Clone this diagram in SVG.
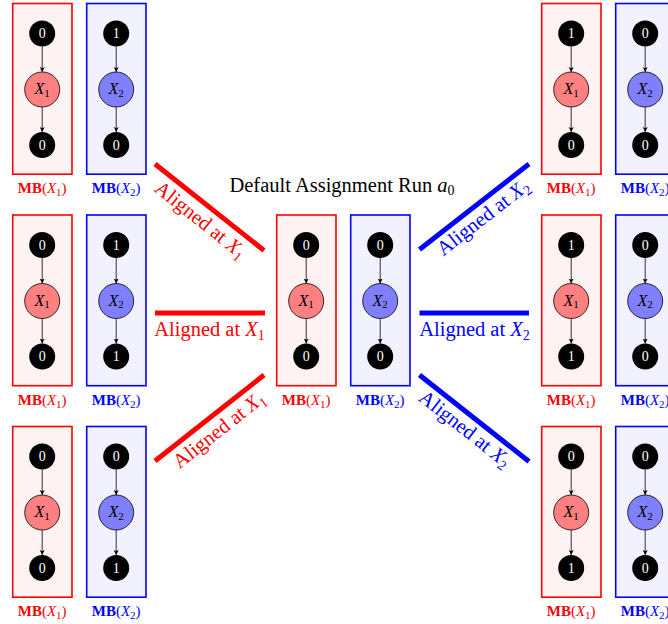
<svg xmlns="http://www.w3.org/2000/svg" width="668" height="624" viewBox="0 0 668 624">
<defs>
<marker id="ah" markerUnits="userSpaceOnUse" markerWidth="6" markerHeight="6" refX="5" refY="2.5" orient="auto">
<path d="M0,0 L5,2.5 L0,5 L1.2,2.5 z" fill="#000"/>
</marker>
</defs>
<style>
.rbox{fill:#fff2f2;stroke:#ff0000;stroke-width:1.6}
.bbox{fill:#f2f2ff;stroke:#0000ff;stroke-width:1.6}
.val{fill:#000}
.vt{fill:#fff;font-family:"Liberation Serif",serif;font-size:14px;text-anchor:middle}
.xr{fill:#ff8080;stroke:#000;stroke-width:0.8}
.xb{fill:#8080ff;stroke:#000;stroke-width:0.8}
.xt{fill:#000;font-family:"Liberation Serif",serif;font-size:16px;text-anchor:middle}
.ar{stroke:#000;stroke-width:0.8;fill:none;marker-end:url(#ah)}
.mb{font-family:"Liberation Serif",serif;font-size:15px;text-anchor:middle}
.mbr{fill:#ff0000}
.mbb{fill:#0000ff}
.lr{stroke:#ff0000;stroke-width:5;fill:none}
.lb{stroke:#0000ff;stroke-width:5;fill:none}
.al{font-family:"Liberation Serif",serif;font-size:20.5px;text-anchor:middle}
.title{font-family:"Liberation Serif",serif;font-size:20.5px;text-anchor:middle;fill:#000}
</style>

<text class="title" x="342" y="192">Default Assignment Run <tspan font-style="italic">a</tspan><tspan font-size="14" dy="3">0</tspan></text>

<g id="connectors">
<line class="lr" x1="155" y1="164" x2="264" y2="250.5"/>
<line class="lr" x1="155" y1="313" x2="265" y2="313"/>
<line class="lr" x1="155" y1="461" x2="264" y2="375"/>
<line class="lb" x1="419.5" y1="249.5" x2="529" y2="164"/>
<line class="lb" x1="419.5" y1="313" x2="529" y2="313"/>
<line class="lb" x1="419.5" y1="375" x2="529" y2="461.5"/>
<text class="al mbr" transform="translate(196.5,225) rotate(38.5)">Aligned at <tspan font-style="italic">X</tspan><tspan font-size="14" dy="4">1</tspan></text>
<text class="al mbr" x="209.5" y="336">Aligned at <tspan font-style="italic">X</tspan><tspan font-size="14" dy="4">1</tspan></text>
<text class="al mbr" transform="translate(223,435) rotate(-38.2)">Aligned at <tspan font-style="italic">X</tspan><tspan font-size="14" dy="4">1</tspan></text>
<text class="al mbb" transform="translate(487,222.5) rotate(-37.8)">Aligned at <tspan font-style="italic">X</tspan><tspan font-size="14" dy="4">2</tspan></text>
<text class="al mbb" x="474.5" y="336">Aligned at <tspan font-style="italic">X</tspan><tspan font-size="14" dy="4">2</tspan></text>
<text class="al mbb" transform="translate(461,434) rotate(38.2)">Aligned at <tspan font-style="italic">X</tspan><tspan font-size="14" dy="4">2</tspan></text>
</g>

<!-- Left column, row 1 -->
<g id="L1-MB1">
<rect class="rbox" x="12.7" y="3.5" width="59.3" height="170.7"/>
<circle class="val" cx="42.2" cy="33.5" r="13"/><text class="vt" x="42.2" y="38.3">0</text>
<line class="ar" x1="42.2" y1="46.5" x2="42.2" y2="72"/>
<circle class="xr" cx="42.2" cy="89.5" r="17.5"/><text class="xt" x="42.2" y="94"><tspan font-style="italic">X</tspan><tspan font-size="11" dy="2.5">1</tspan></text>
<line class="ar" x1="42.2" y1="107" x2="42.2" y2="132"/>
<circle class="val" cx="42.2" cy="145" r="13"/><text class="vt" x="42.2" y="149.8">0</text>
<text class="mb mbr" x="42.2" y="193"><tspan font-weight="bold">MB</tspan>(<tspan font-style="italic">X</tspan><tspan font-size="11" dy="3">1</tspan><tspan dy="-3">)</tspan></text>
</g>
<g id="L1-MB2">
<rect class="bbox" x="86.7" y="3.5" width="59.3" height="170.7"/>
<circle class="val" cx="116.2" cy="33.5" r="13"/><text class="vt" x="116.2" y="38.3">1</text>
<line class="ar" x1="116.2" y1="46.5" x2="116.2" y2="72"/>
<circle class="xb" cx="116.2" cy="89.5" r="17.5"/><text class="xt" x="116.2" y="94"><tspan font-style="italic">X</tspan><tspan font-size="11" dy="2.5">2</tspan></text>
<line class="ar" x1="116.2" y1="107" x2="116.2" y2="132"/>
<circle class="val" cx="116.2" cy="145" r="13"/><text class="vt" x="116.2" y="149.8">0</text>
<text class="mb mbb" x="116.2" y="193"><tspan font-weight="bold">MB</tspan>(<tspan font-style="italic">X</tspan><tspan font-size="11" dy="3">2</tspan><tspan dy="-3">)</tspan></text>
</g>

<!-- Left column, row 2 -->
<g id="L2-MB1">
<rect class="rbox" x="12.7" y="215" width="59.3" height="170.7"/>
<circle class="val" cx="42.2" cy="245" r="13"/><text class="vt" x="42.2" y="249.8">0</text>
<line class="ar" x1="42.2" y1="258" x2="42.2" y2="283.5"/>
<circle class="xr" cx="42.2" cy="301" r="17.5"/><text class="xt" x="42.2" y="305.5"><tspan font-style="italic">X</tspan><tspan font-size="11" dy="2.5">1</tspan></text>
<line class="ar" x1="42.2" y1="318.5" x2="42.2" y2="343.5"/>
<circle class="val" cx="42.2" cy="356.5" r="13"/><text class="vt" x="42.2" y="361.3">0</text>
<text class="mb mbr" x="42.2" y="404.5"><tspan font-weight="bold">MB</tspan>(<tspan font-style="italic">X</tspan><tspan font-size="11" dy="3">1</tspan><tspan dy="-3">)</tspan></text>
</g>
<g id="L2-MB2">
<rect class="bbox" x="86.7" y="215" width="59.3" height="170.7"/>
<circle class="val" cx="116.2" cy="245" r="13"/><text class="vt" x="116.2" y="249.8">1</text>
<line class="ar" x1="116.2" y1="258" x2="116.2" y2="283.5"/>
<circle class="xb" cx="116.2" cy="301" r="17.5"/><text class="xt" x="116.2" y="305.5"><tspan font-style="italic">X</tspan><tspan font-size="11" dy="2.5">2</tspan></text>
<line class="ar" x1="116.2" y1="318.5" x2="116.2" y2="343.5"/>
<circle class="val" cx="116.2" cy="356.5" r="13"/><text class="vt" x="116.2" y="361.3">1</text>
<text class="mb mbb" x="116.2" y="404.5"><tspan font-weight="bold">MB</tspan>(<tspan font-style="italic">X</tspan><tspan font-size="11" dy="3">2</tspan><tspan dy="-3">)</tspan></text>
</g>

<!-- Left column, row 3 -->
<g id="L3-MB1">
<rect class="rbox" x="12.7" y="426.5" width="59.3" height="170.7"/>
<circle class="val" cx="42.2" cy="456.5" r="13"/><text class="vt" x="42.2" y="461.3">0</text>
<line class="ar" x1="42.2" y1="469.5" x2="42.2" y2="495"/>
<circle class="xr" cx="42.2" cy="512.5" r="17.5"/><text class="xt" x="42.2" y="517"><tspan font-style="italic">X</tspan><tspan font-size="11" dy="2.5">1</tspan></text>
<line class="ar" x1="42.2" y1="530" x2="42.2" y2="555"/>
<circle class="val" cx="42.2" cy="568" r="13"/><text class="vt" x="42.2" y="572.8">0</text>
<text class="mb mbr" x="42.2" y="616"><tspan font-weight="bold">MB</tspan>(<tspan font-style="italic">X</tspan><tspan font-size="11" dy="3">1</tspan><tspan dy="-3">)</tspan></text>
</g>
<g id="L3-MB2">
<rect class="bbox" x="86.7" y="426.5" width="59.3" height="170.7"/>
<circle class="val" cx="116.2" cy="456.5" r="13"/><text class="vt" x="116.2" y="461.3">0</text>
<line class="ar" x1="116.2" y1="469.5" x2="116.2" y2="495"/>
<circle class="xb" cx="116.2" cy="512.5" r="17.5"/><text class="xt" x="116.2" y="517"><tspan font-style="italic">X</tspan><tspan font-size="11" dy="2.5">2</tspan></text>
<line class="ar" x1="116.2" y1="530" x2="116.2" y2="555"/>
<circle class="val" cx="116.2" cy="568" r="13"/><text class="vt" x="116.2" y="572.8">1</text>
<text class="mb mbb" x="116.2" y="616"><tspan font-weight="bold">MB</tspan>(<tspan font-style="italic">X</tspan><tspan font-size="11" dy="3">2</tspan><tspan dy="-3">)</tspan></text>
</g>

<!-- Center -->
<g id="C-MB1">
<rect class="rbox" x="276.7" y="215" width="59.3" height="170.7"/>
<circle class="val" cx="306.2" cy="245" r="13"/><text class="vt" x="306.2" y="249.8">0</text>
<line class="ar" x1="306.2" y1="258" x2="306.2" y2="283.5"/>
<circle class="xr" cx="306.2" cy="301" r="17.5"/><text class="xt" x="306.2" y="305.5"><tspan font-style="italic">X</tspan><tspan font-size="11" dy="2.5">1</tspan></text>
<line class="ar" x1="306.2" y1="318.5" x2="306.2" y2="343.5"/>
<circle class="val" cx="306.2" cy="356.5" r="13"/><text class="vt" x="306.2" y="361.3">0</text>
<text class="mb mbr" x="306.2" y="404.5"><tspan font-weight="bold">MB</tspan>(<tspan font-style="italic">X</tspan><tspan font-size="11" dy="3">1</tspan><tspan dy="-3">)</tspan></text>
</g>
<g id="C-MB2">
<rect class="bbox" x="350.7" y="215" width="59.3" height="170.7"/>
<circle class="val" cx="380.2" cy="245" r="13"/><text class="vt" x="380.2" y="249.8">0</text>
<line class="ar" x1="380.2" y1="258" x2="380.2" y2="283.5"/>
<circle class="xb" cx="380.2" cy="301" r="17.5"/><text class="xt" x="380.2" y="305.5"><tspan font-style="italic">X</tspan><tspan font-size="11" dy="2.5">2</tspan></text>
<line class="ar" x1="380.2" y1="318.5" x2="380.2" y2="343.5"/>
<circle class="val" cx="380.2" cy="356.5" r="13"/><text class="vt" x="380.2" y="361.3">0</text>
<text class="mb mbb" x="380.2" y="404.5"><tspan font-weight="bold">MB</tspan>(<tspan font-style="italic">X</tspan><tspan font-size="11" dy="3">2</tspan><tspan dy="-3">)</tspan></text>
</g>

<!-- Right column, row 1 -->
<g id="R1-MB1">
<rect class="rbox" x="541.7" y="3.5" width="59.3" height="170.7"/>
<circle class="val" cx="571.2" cy="33.5" r="13"/><text class="vt" x="571.2" y="38.3">1</text>
<line class="ar" x1="571.2" y1="46.5" x2="571.2" y2="72"/>
<circle class="xr" cx="571.2" cy="89.5" r="17.5"/><text class="xt" x="571.2" y="94"><tspan font-style="italic">X</tspan><tspan font-size="11" dy="2.5">1</tspan></text>
<line class="ar" x1="571.2" y1="107" x2="571.2" y2="132"/>
<circle class="val" cx="571.2" cy="145" r="13"/><text class="vt" x="571.2" y="149.8">0</text>
<text class="mb mbr" x="571.2" y="193"><tspan font-weight="bold">MB</tspan>(<tspan font-style="italic">X</tspan><tspan font-size="11" dy="3">1</tspan><tspan dy="-3">)</tspan></text>
</g>
<g id="R1-MB2">
<rect class="bbox" x="615.7" y="3.5" width="59.3" height="170.7"/>
<circle class="val" cx="645.2" cy="33.5" r="13"/><text class="vt" x="645.2" y="38.3">0</text>
<line class="ar" x1="645.2" y1="46.5" x2="645.2" y2="72"/>
<circle class="xb" cx="645.2" cy="89.5" r="17.5"/><text class="xt" x="645.2" y="94"><tspan font-style="italic">X</tspan><tspan font-size="11" dy="2.5">2</tspan></text>
<line class="ar" x1="645.2" y1="107" x2="645.2" y2="132"/>
<circle class="val" cx="645.2" cy="145" r="13"/><text class="vt" x="645.2" y="149.8">0</text>
<text class="mb mbb" x="645.2" y="193"><tspan font-weight="bold">MB</tspan>(<tspan font-style="italic">X</tspan><tspan font-size="11" dy="3">2</tspan><tspan dy="-3">)</tspan></text>
</g>

<!-- Right column, row 2 -->
<g id="R2-MB1">
<rect class="rbox" x="541.7" y="215" width="59.3" height="170.7"/>
<circle class="val" cx="571.2" cy="245" r="13"/><text class="vt" x="571.2" y="249.8">1</text>
<line class="ar" x1="571.2" y1="258" x2="571.2" y2="283.5"/>
<circle class="xr" cx="571.2" cy="301" r="17.5"/><text class="xt" x="571.2" y="305.5"><tspan font-style="italic">X</tspan><tspan font-size="11" dy="2.5">1</tspan></text>
<line class="ar" x1="571.2" y1="318.5" x2="571.2" y2="343.5"/>
<circle class="val" cx="571.2" cy="356.5" r="13"/><text class="vt" x="571.2" y="361.3">1</text>
<text class="mb mbr" x="571.2" y="404.5"><tspan font-weight="bold">MB</tspan>(<tspan font-style="italic">X</tspan><tspan font-size="11" dy="3">1</tspan><tspan dy="-3">)</tspan></text>
</g>
<g id="R2-MB2">
<rect class="bbox" x="615.7" y="215" width="59.3" height="170.7"/>
<circle class="val" cx="645.2" cy="245" r="13"/><text class="vt" x="645.2" y="249.8">0</text>
<line class="ar" x1="645.2" y1="258" x2="645.2" y2="283.5"/>
<circle class="xb" cx="645.2" cy="301" r="17.5"/><text class="xt" x="645.2" y="305.5"><tspan font-style="italic">X</tspan><tspan font-size="11" dy="2.5">2</tspan></text>
<line class="ar" x1="645.2" y1="318.5" x2="645.2" y2="343.5"/>
<circle class="val" cx="645.2" cy="356.5" r="13"/><text class="vt" x="645.2" y="361.3">0</text>
<text class="mb mbb" x="645.2" y="404.5"><tspan font-weight="bold">MB</tspan>(<tspan font-style="italic">X</tspan><tspan font-size="11" dy="3">2</tspan><tspan dy="-3">)</tspan></text>
</g>

<!-- Right column, row 3 -->
<g id="R3-MB1">
<rect class="rbox" x="541.7" y="426.5" width="59.3" height="170.7"/>
<circle class="val" cx="571.2" cy="456.5" r="13"/><text class="vt" x="571.2" y="461.3">0</text>
<line class="ar" x1="571.2" y1="469.5" x2="571.2" y2="495"/>
<circle class="xr" cx="571.2" cy="512.5" r="17.5"/><text class="xt" x="571.2" y="517"><tspan font-style="italic">X</tspan><tspan font-size="11" dy="2.5">1</tspan></text>
<line class="ar" x1="571.2" y1="530" x2="571.2" y2="555"/>
<circle class="val" cx="571.2" cy="568" r="13"/><text class="vt" x="571.2" y="572.8">1</text>
<text class="mb mbr" x="571.2" y="616"><tspan font-weight="bold">MB</tspan>(<tspan font-style="italic">X</tspan><tspan font-size="11" dy="3">1</tspan><tspan dy="-3">)</tspan></text>
</g>
<g id="R3-MB2">
<rect class="bbox" x="615.7" y="426.5" width="59.3" height="170.7"/>
<circle class="val" cx="645.2" cy="456.5" r="13"/><text class="vt" x="645.2" y="461.3">0</text>
<line class="ar" x1="645.2" y1="469.5" x2="645.2" y2="495"/>
<circle class="xb" cx="645.2" cy="512.5" r="17.5"/><text class="xt" x="645.2" y="517"><tspan font-style="italic">X</tspan><tspan font-size="11" dy="2.5">2</tspan></text>
<line class="ar" x1="645.2" y1="530" x2="645.2" y2="555"/>
<circle class="val" cx="645.2" cy="568" r="13"/><text class="vt" x="645.2" y="572.8">0</text>
<text class="mb mbb" x="645.2" y="616"><tspan font-weight="bold">MB</tspan>(<tspan font-style="italic">X</tspan><tspan font-size="11" dy="3">2</tspan><tspan dy="-3">)</tspan></text>
</g>
</svg>
